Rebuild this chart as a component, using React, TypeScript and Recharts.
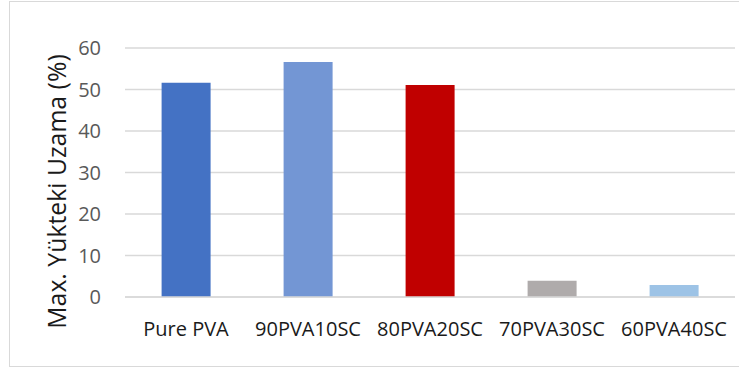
import { BarChart, Bar, Cell, XAxis, YAxis, CartesianGrid } from 'recharts';

const categories = ['Pure PVA', '90PVA10SC', '80PVA20SC', '70PVA30SC', '60PVA40SC'];
const elongation = [51.6, 56.6, 51.1, 3.9, 2.9];
const barColors = ['#4472C4', '#7396D4', '#C00000', '#AFABAB', '#9DC3E6'];
const yTicks = [0, 10, 20, 30, 40, 50, 60];

const data = categories.map((name, i) => ({ name, value: elongation[i] }));

const font = '"Open Sans", Lato, sans-serif';

function YTitle({ viewBox }: any) {
  const x = viewBox.x + 56;
  const y = viewBox.y + viewBox.height / 2 + 19;
  return (
    <text
      x={x}
      y={y}
      transform={`rotate(-90, ${x}, ${y})`}
      textAnchor="middle"
      dominantBaseline="central"
      fontSize={24.8}
      fontFamily={font}
      fill="#1a1a1a"
    >
      Max. Yükteki Uzama (%)
    </text>
  );
}

export default function App() {
  return (
    <div style={{ position: 'absolute', left: 0, top: 0, width: 739, height: 369, overflow: 'hidden', background: '#fff' }}>
      <div
        style={{
          position: 'absolute',
          left: 9,
          top: 1,
          width: 740,
          height: 364,
          border: '1px solid #d9d9d9',
        }}
      />
      <div style={{ position: 'absolute', left: 0, top: 0 }}>
        <BarChart
          width={739}
          height={369}
          data={data}
          margin={{ top: 48, right: 4, bottom: 0, left: 0 }}
          barCategoryGap="30%"
        >
          <CartesianGrid vertical={false} stroke="#d9d9d9" strokeWidth={1.3} />
          <XAxis
            dataKey="name"
            height={72}
            axisLine={{ stroke: '#d9d9d9', strokeWidth: 1.3 }}
            tickLine={false}
            tickSize={0}
            tickMargin={25}
            tick={{ fontSize: 20, fill: '#1a1a1a', fontFamily: font }}
          />
          <YAxis
            width={125}
            domain={[0, 60]}
            ticks={yTicks}
            axisLine={false}
            tickLine={false}
            tickSize={0}
            tickMargin={24}
            tick={{ fontSize: 20, fill: '#595959', fontFamily: font }}
            label={<YTitle />}
          />
          <Bar dataKey="value" isAnimationActive={false}>
            {data.map((entry, i) => (
              <Cell key={entry.name} fill={barColors[i]} />
            ))}
          </Bar>
        </BarChart>
      </div>
    </div>
  );
}
